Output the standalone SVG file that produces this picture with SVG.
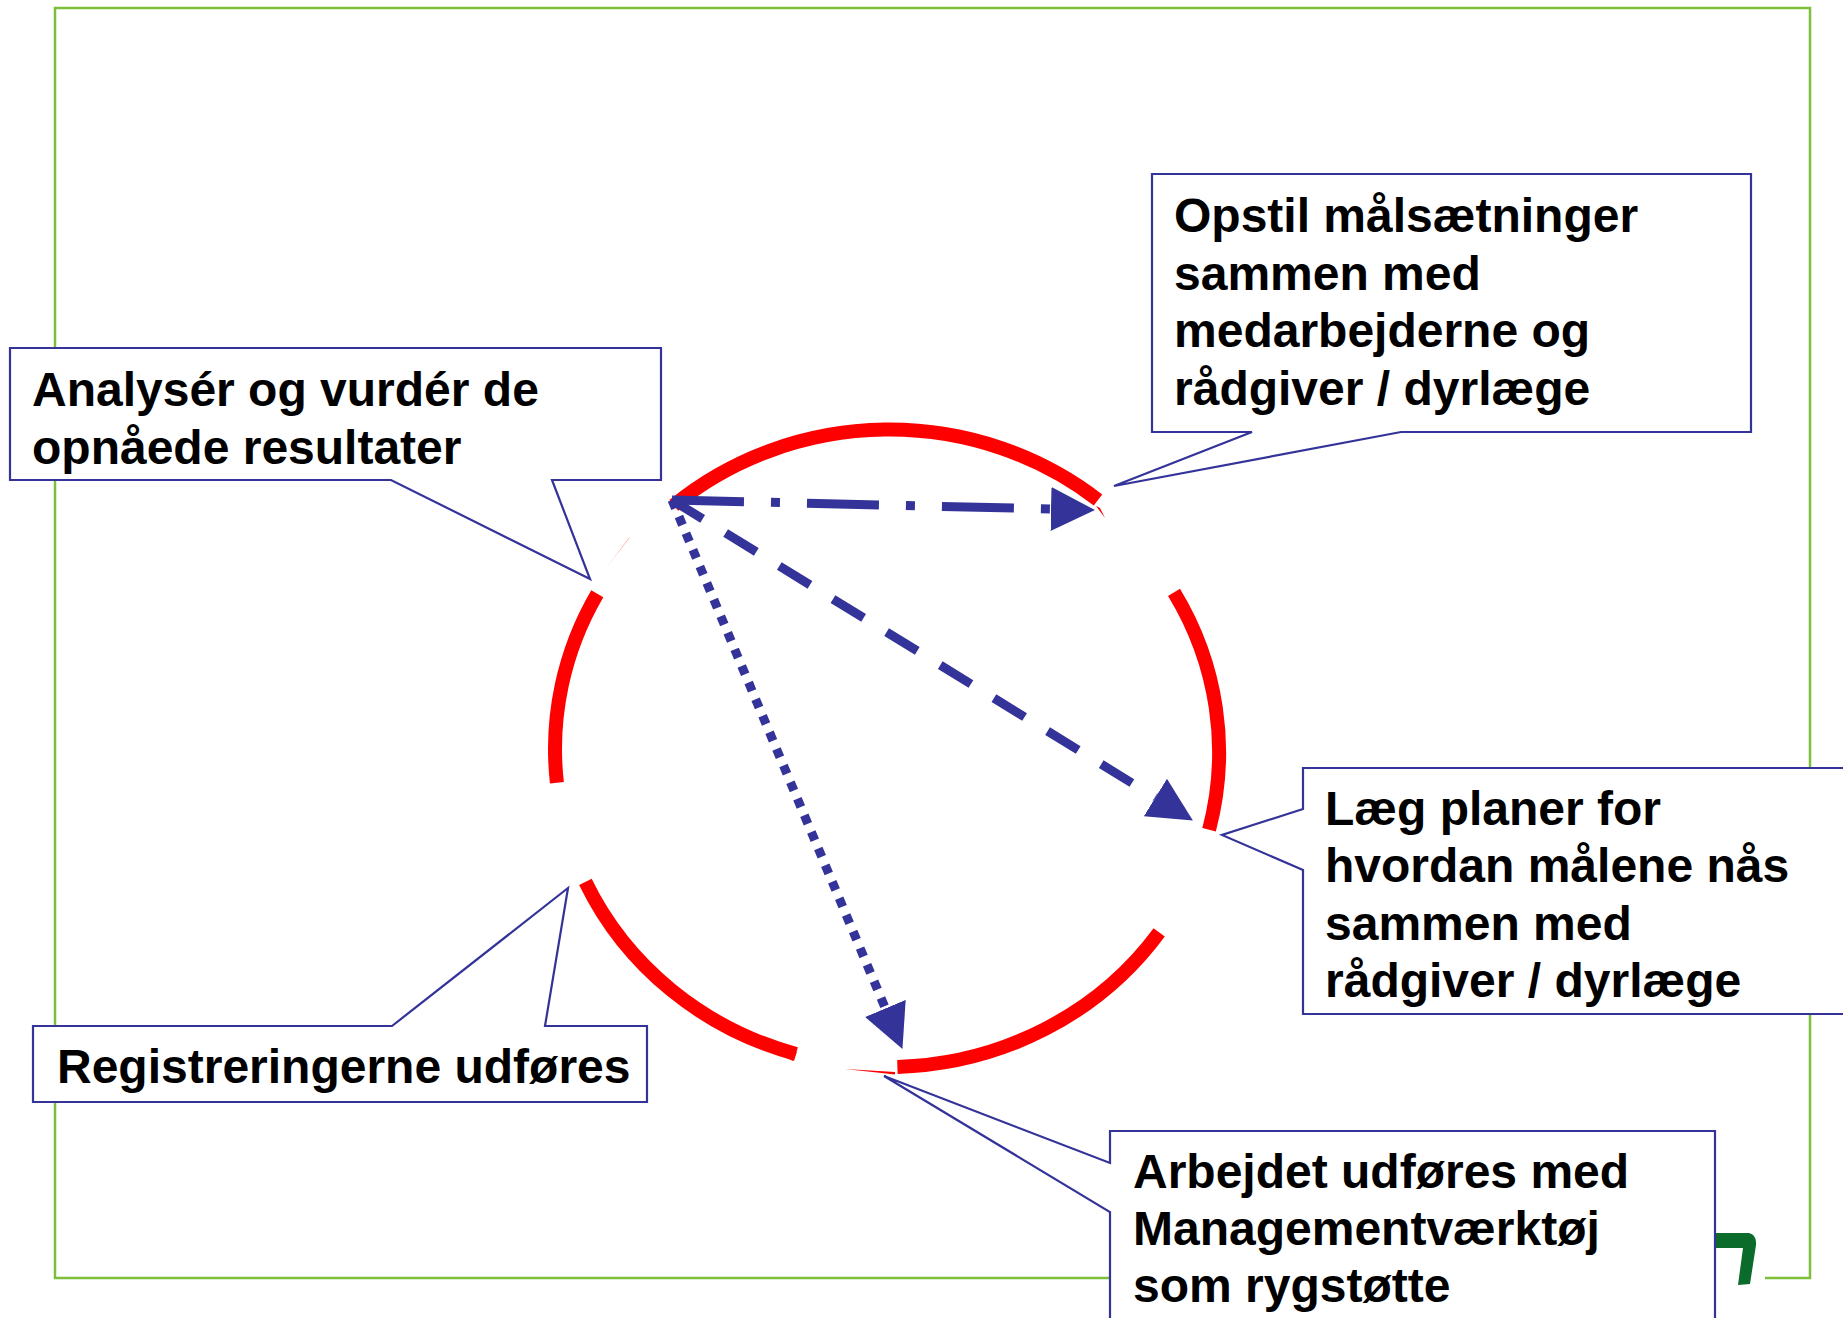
<svg xmlns="http://www.w3.org/2000/svg" width="1843" height="1318" viewBox="0 0 1843 1318">
  <style>
    .frame { fill: none; stroke: #7dbf3a; stroke-width: 2.5; }
    .arc { fill: none; stroke: #ff0000; stroke-width: 14; stroke-linecap: butt; }
    .sliver { fill: #ff0000; stroke: none; }
    .conn { fill: none; stroke: #333399; stroke-width: 9; stroke-linecap: butt; }
    .callout { fill: #ffffff; stroke: #333399; stroke-width: 2.2; }
    .label { font-family: "Liberation Sans", Arial, sans-serif; font-weight: bold; font-size: 48px; fill: #000000; }
  </style>
  <defs>
    <marker id="head" viewBox="0 0 10 10" refX="0" refY="5" markerUnits="userSpaceOnUse" markerWidth="44" markerHeight="44" orient="auto">
      <path d="M0,0 L10,5 L0,10 z" fill="#333399"/>
    </marker>
  </defs>
  <rect width="1843" height="1318" fill="#ffffff"/>

  <g id="frame">
    <rect class="frame" x="55" y="8" width="1755" height="1270"/>
  </g>

  <g id="cycle">
    <path class="arc" d="M 673.8 505.4 A 332.5 318 0 0 1 1098 500"/>
    <path class="arc" d="M 1174 592.4 A 332.5 318 0 0 1 1209.1 829.7"/>
    <path class="arc" d="M 1159.2 932.3 A 332.5 318 0 0 1 897.4 1066.9"/>
    <path class="arc" d="M 796 1054 A 332.5 318 0 0 1 585.4 881.9"/>
    <path class="arc" d="M 556.9 782.8 A 332.5 318 0 0 1 597.3 593.8"/>
    <path class="sliver" d="M 1096 506 L 1105 518 L 1100 508 z"/>
    <path class="sliver" d="M 607 567 L 630 537 L 628.5 538.5 z"/>
    <path class="sliver" d="M 845 1069 L 895 1072 L 895 1074.5 z"/>
    <path class="sliver" d="M 785 1057 L 793 1061 L 797 1052 z"/>
  </g>

  <g id="connectors">
    <path class="conn" d="M 672 500 L 1051 509" stroke-dasharray="72 27 9 27" marker-end="url(#head)"/>
    <path class="conn" d="M 672 500 L 1155.4 797.5" stroke-dasharray="36 27" marker-end="url(#head)"/>
    <path class="conn" d="M 672 500 L 885.4 1008.4" stroke-dasharray="9 9" marker-end="url(#head)"/>
  </g>

  <g id="logo">
    <rect x="1714" y="1270" width="51" height="16" fill="#ffffff"/>
    <path d="M 1715 1233 L 1749 1233 Q 1757 1235 1756 1245 L 1750 1284 L 1738 1285 L 1743 1248 L 1715 1248 z" fill="#0b6b2b"/>
  </g>

  <g id="node-analyser">
    <path class="callout" d="M 10 348 L 661 348 L 661 480 L 552 480 L 590 579 L 391 480 L 10 480 z"/>
    <text class="label" x="32" y="406">Analysér og vurdér de</text>
    <text class="label" x="32" y="464">opnåede resultater</text>
  </g>

  <g id="node-opstil">
    <path class="callout" d="M 1152 174 L 1751 174 L 1751 432 L 1401 432 L 1114 486 L 1252 432 L 1152 432 z"/>
    <text class="label" x="1174" y="232">Opstil målsætninger</text>
    <text class="label" x="1174" y="289.5">sammen med</text>
    <text class="label" x="1174" y="347">medarbejderne og</text>
    <text class="label" x="1174" y="404.5">rådgiver / dyrlæge</text>
  </g>

  <g id="node-laeg">
    <path class="callout" d="M 1303 768 L 1860 768 L 1860 1014 L 1303 1014 L 1303 870 L 1222 835 L 1303 809 z"/>
    <text class="label" x="1325" y="825">Læg planer for</text>
    <text class="label" x="1325" y="882">hvordan målene nås</text>
    <text class="label" x="1325" y="940">sammen med</text>
    <text class="label" x="1325" y="997">rådgiver / dyrlæge</text>
  </g>

  <g id="node-registreringer">
    <path class="callout" d="M 33 1026 L 392 1026 L 568 888 L 545 1026 L 647 1026 L 647 1102 L 33 1102 z"/>
    <text class="label" x="57" y="1083">Registreringerne udføres</text>
  </g>

  <g id="node-arbejdet">
    <path class="callout" d="M 1110 1131 L 1715 1131 L 1715 1340 L 1110 1340 L 1110 1212 L 884 1076 L 1110 1163 z"/>
    <text class="label" x="1133" y="1188">Arbejdet udføres med</text>
    <text class="label" x="1133" y="1245">Managementværktøj</text>
    <text class="label" x="1133" y="1302">som rygstøtte</text>
  </g>
</svg>
